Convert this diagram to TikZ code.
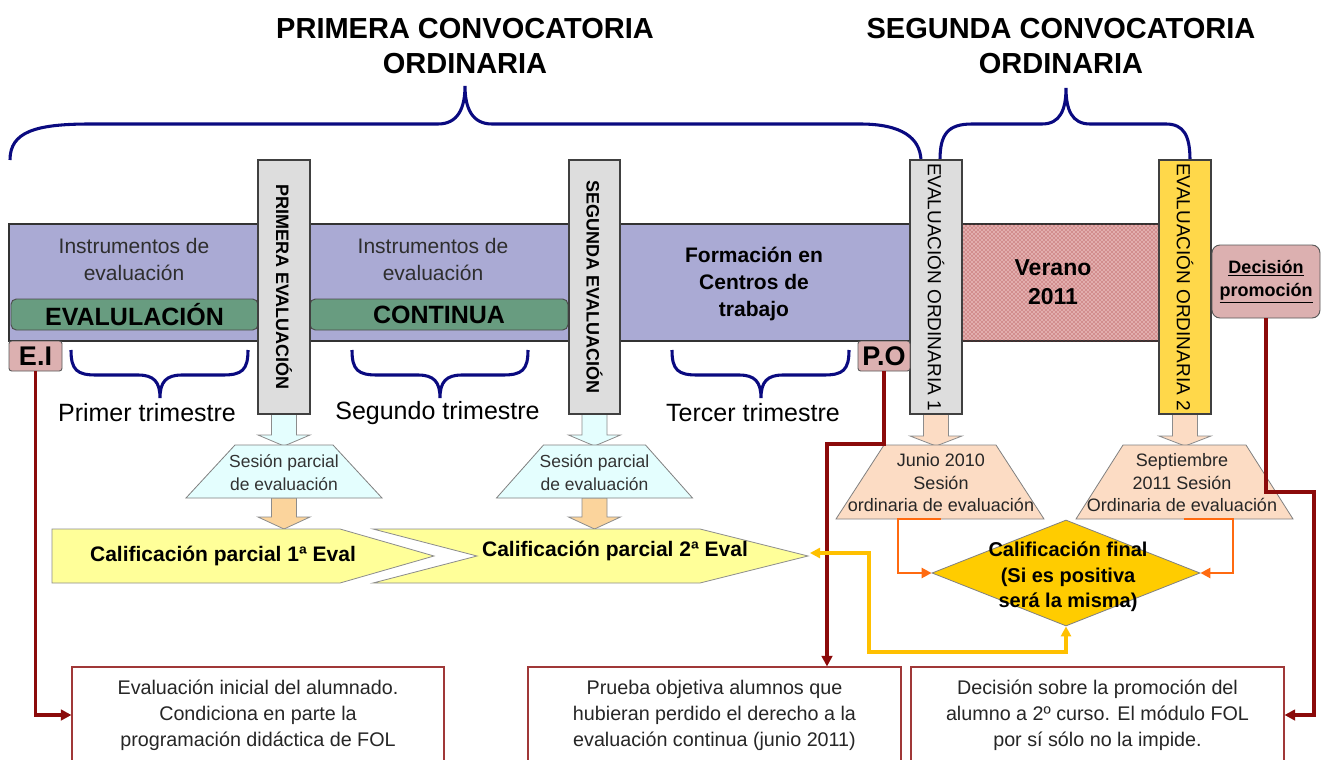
\documentclass[tikz,border=0pt]{standalone}
\usepackage{fontspec}
\setmainfont{Liberation Sans}
\usetikzlibrary{shapes.geometric,patterns,arrows.meta}
\definecolor{bandc}{HTML}{AAAAD4}
\definecolor{vgray}{HTML}{DDDDDD}
\definecolor{greenbar}{HTML}{689C80}
\definecolor{pinkbox}{HTML}{DCB0B0}
\definecolor{cyanl}{HTML}{E4FEFE}
\definecolor{peach}{HTML}{FBD49C}
\definecolor{peachl}{HTML}{FCDCC4}
\definecolor{chev}{HTML}{FFFF99}
\definecolor{goldc}{HTML}{FFCC00}
\definecolor{ordy}{HTML}{FFD84A}
\definecolor{orline}{HTML}{FF6A10}
\definecolor{yline}{HTML}{FFC000}
\definecolor{maroonc}{HTML}{8B0A0A}
\definecolor{navyc}{HTML}{0A0A80}
\definecolor{boxred}{HTML}{A03838}
\definecolor{verbase}{HTML}{E2AEAE}
\definecolor{verdot}{HTML}{A02828}
\def\px{*0.75pt}
\newcommand\blockarr[5]{\filldraw[fill=#5,draw=black!45,line width=0.6pt] ({#1-12.5},#2) -- ({#1+12.5},#2) -- ({#1+12.5},#3) -- ({#1+26},#3) -- (#1,#4) -- ({#1-26},#3) -- ({#1-12.5},#3) -- cycle;}
\newcommand\trapz[6]{\filldraw[fill=#6,draw=black!50,line width=0.6pt] ({#1-#4},#2) -- ({#1+#4},#2) -- ({#1+#5},#3) -- ({#1-#5},#3) -- cycle;}
\newcommand\lowbrace[3]{\draw[bracestyle] (#1,350) .. controls (#1,370) and ({#1+6},375) .. ({#1+25},375) -- ({#2-22},375) .. controls ({#2-6},375) and (#2,382) .. (#2,398) .. controls (#2,382) and ({#2+6},375) .. ({#2+22},375) -- ({#3-25},375) .. controls ({#3-6},375) and (#3,370) .. (#3,350);}
\begin{document}
\begin{tikzpicture}[x=0.75pt,y=-0.75pt,
  bracestyle/.style={draw=navyc,line width=2.3pt},
  titlef/.style={font=\bfseries\fontsize{21.75}{26.25}\selectfont,align=center,inner sep=0pt},
  vbox/.style={draw=black!75,line width=0.8pt,rotate=-90,inner sep=0pt,minimum width=254\px,minimum height=52\px},
  gbar/.style={draw=black!70,line width=0.7pt,fill=greenbar,rounded corners=4pt,minimum height=31\px,inner sep=0pt,font=\bfseries\fontsize{18.75}{20}\selectfont},
  instr/.style={align=center,text=black!82,font=\fontsize{15.75}{20.25}\selectfont,inner sep=0pt},
  pinkb/.style={draw=black!65,line width=0.7pt,fill=pinkbox,rounded corners=2pt,inner sep=0pt,minimum height=30\px,font=\bfseries\fontsize{20.25}{21}\selectfont},
  trim/.style={font=\fontsize{18.75}{20}\selectfont,inner sep=0pt},
  sesf/.style={align=center,text=black!80,font=\fontsize{13.1}{17.25}\selectfont,inner sep=0pt},
  junf/.style={align=center,text=black!85,font=\fontsize{13.5}{16.9}\selectfont,inner sep=0pt},
  chevs/.style={fill=chev,draw=black!45,line width=0.6pt},
  chf/.style={font=\bfseries\fontsize{15.75}{17}\selectfont,inner sep=0pt},
  bbox/.style={draw=boxred,line width=0.8pt,fill=white,minimum height=96\px,align=center,text=black!85,font=\fontsize{14.8}{19.5}\selectfont,inner sep=0pt},
  mar/.style={draw=maroonc,line width=2.6pt,-{Triangle[length=8pt,width=8pt]}},
  orc/.style={draw=orline,line width=2pt,-{Triangle[length=7.5pt,width=7.5pt]}},
  yc/.style={draw=yline,line width=2.6pt,{Triangle[length=7.5pt,width=7.5pt]}-{Triangle[length=7.5pt,width=7.5pt]}}
]
\useasboundingbox (0,0) rectangle (1322,760);
\clip (0,0) rectangle (1322,760);
\fill[white] (0,0) rectangle (1322,760);

% titles
\node[titlef] (tit1) at (465,46) {PRIMERA CONVOCATORIA\\ORDINARIA};
\node[titlef] (tit2) at (1061,46) {SEGUNDA CONVOCATORIA\\ORDINARIA};

% top braces
\draw[bracestyle] (10,160) .. controls (10,132) and (35,124) .. (90,124) -- (438,124) .. controls (458,124) and (465,108) .. (465,86) .. controls (465,108) and (472,124) .. (492,124) -- (860,124) .. controls (902,124) and (920,138) .. (921,160);
\draw[bracestyle] (940,160) .. controls (940,134) and (948,124) .. (972,124) -- (1042,124) .. controls (1060,124) and (1066,110) .. (1066,88) .. controls (1066,110) and (1072,124) .. (1090,124) -- (1166,124) .. controls (1184,124) and (1190,136) .. (1190,160);

% band and summer
\node[draw=black!80,line width=0.8pt,fill=bandc,minimum width=902\px,minimum height=117\px,inner sep=0pt] (band) at (460,282.5) {};
\node[draw=black!80,line width=0.8pt,fill=verbase,postaction={pattern=crosshatch dots,pattern color=verdot},minimum width=197\px,minimum height=117\px,inner sep=0pt] (ver) at (1060.5,282.5) {};
\node[align=center,font=\bfseries\fontsize{17.25}{21.75}\selectfont,inner sep=0pt] (vertxt) at (1053,282) {Verano\\2011};

% green bars and texts
\node[gbar,minimum width=247\px] (g1) at (134.5,314.5) {EVALULACIÓN};
\node[gbar,minimum width=258\px] (g2) at (439,314.5) {CONTINUA};
\node[instr] (in1) at (134,259) {Instrumentos de\\evaluación};
\node[instr] (in2) at (433,259) {Instrumentos de\\evaluación};
\node[align=center,font=\bfseries\fontsize{15.75}{19.9}\selectfont,inner sep=0pt] (fct) at (754,284) {Formación en\\Centros de\\trabajo};

% block arrows
\blockarr{284}{414}{435}{446}{cyanl}
\blockarr{594.5}{414}{435}{446}{cyanl}
\blockarr{284}{498}{517}{529}{peach}
\blockarr{594.5}{498}{517}{529}{peach}
\blockarr{936}{414}{436}{446}{peachl}
\blockarr{1185}{413}{436}{446}{peachl}

% vertical boxes
\node[vbox,fill=vgray,font=\bfseries\fontsize{13.5}{14}\selectfont] (pe) at (284,287) {PRIMERA EVALUACIÓN};
\node[vbox,fill=vgray,minimum height=51\px,font=\bfseries\fontsize{13.5}{14}\selectfont] (se) at (594.5,287) {SEGUNDA EVALUACIÓN};
\node[vbox,fill=vgray,font=\fontsize{14.25}{15}\selectfont] (o1) at (936,287) {EVALUACIÓN ORDINARIA 1};
\node[vbox,fill=ordy,font=\fontsize{14.25}{15}\selectfont] (o2) at (1185,287) {EVALUACIÓN ORDINARIA 2};

% small boxes
\node[pinkb,minimum width=53\px] (ei) at (35.5,356) {E.I};
\node[pinkb,minimum width=52\px] (po) at (884,356) {P.O};
\node[draw=black!65,line width=0.7pt,fill=pinkbox,rounded corners=6pt,minimum width=108\px,minimum height=73\px,inner sep=0pt,align=center,font=\bfseries\fontsize{13.5}{17.25}\selectfont] (dp) at (1266,281.5) {\underline{Decisión}\\\underline{promoción}};

% lower braces
\lowbrace{71}{160}{248}
\lowbrace{352}{440}{528}
\lowbrace{672}{761}{849}
\node[trim] (tr1) at (147,413) {Primer trimestre};
\node[trim] (tr2) at (437.5,413) {Segundo trimestre};
\node[trim] (tr3) at (753,413) {Tercer trimestre};

% trapezoids
\trapz{284}{445}{498}{49}{98}{cyanl}
\trapz{594.5}{445}{498}{51}{98}{cyanl}
\trapz{940}{445}{519}{56}{104}{peachl}
\trapz{1184.5}{445}{519}{61.5}{108.5}{peachl}
\node[sesf] (t1) at (284,473) {Sesión parcial\\de evaluación};
\node[sesf] (t2) at (594.5,473) {Sesión parcial\\de evaluación};
\node[junf] (t3) at (941,483) {Junio 2010\\Sesión\\ordinaria de evaluación};
\node[junf] (t4) at (1182,483) {Septiembre\\2011 Sesión\\Ordinaria de evaluación};

% chevrons
\filldraw[chevs] (52,529) -- (340,529) -- (434,556) -- (340,583) -- (52,583) -- cycle;
\filldraw[chevs] (373,529) -- (700,529) -- (808,556) -- (700,583) -- (373,583) -- (477,556) -- cycle;
\node[chf] (c1) at (223,556) {Calificación parcial 1ª Eval};
\node[chf] (c2) at (615,551) {Calificación parcial 2ª Eval};

% diamond
\node[diamond,draw=black!50,line width=0.6pt,fill=goldc,minimum width=268\px,minimum height=106\px,inner sep=0pt] (dia) at (1066,573) {};
\node[align=center,font=\bfseries\fontsize{15}{19.1}\selectfont,inner sep=0pt] (dtx) at (1068,577) {Calificación final\\(Si es positiva\\será la misma)};

% bottom boxes
\node[bbox,minimum width=372\px] (b1) at (258,715) {Evaluación inicial del alumnado.\\Condiciona en parte la\\programación didáctica de FOL};
\node[bbox,minimum width=373\px] (b2) at (714.5,715) {Prueba objetiva alumnos que\\hubieran perdido el derecho a la\\evaluación continua (junio 2011)};
\node[bbox,minimum width=373\px] (b3) at (1097.5,715) {Decisión sobre la promoción del\\alumno a 2º curso. El módulo FOL\\por sí sólo no la impide.};

% connectors
\coordinate (pobend) at (827,444);
\coordinate (dpbend) at (1314,492);
\coordinate (t3b) at (941,519);
\coordinate (t3c) at (898,519);
\coordinate (t4b) at (1184,519);
\coordinate (t4c) at (1233,519);
\coordinate (c2tip) at (810,553);
\coordinate (ybend) at (869,652);
\draw[mar] (ei.south) |- (b1.west);
\draw[mar] (po.south) |- (pobend) -- (pobend |- b2.north);
\draw[mar] (dp.south) |- (dpbend) |- (b3.east);
\draw[orc] (t3b) -- (t3c) |- (dia.west);
\draw[orc] (t4b) -- (t4c) |- (dia.east);
\draw[yc] (dia.south) -- (dia.south |- ybend) -- (ybend) -- (ybend |- c2tip) -- (c2tip);
\end{tikzpicture}
\end{document}
